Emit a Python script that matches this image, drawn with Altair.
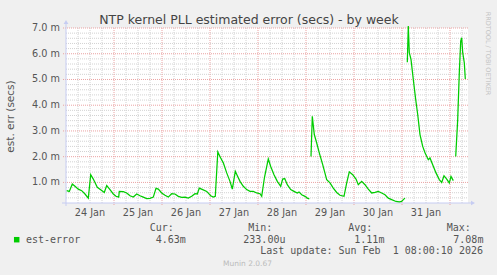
import altair as alt
import pandas as pd

# ---- data (hours since 24 Jan 00:00, est. error in ms) ----
seg1_hours = [0.35, 1.65, 3.15, 4.5, 6.15, 7.85, 9.5, 11.15, 12.35, 13.65, 15.65, 17.85, 19.15, 20.35, 22,
              23.65, 25, 26.35, 26.65, 28.65, 30.35, 32, 33.65, 35.35, 37, 38.65, 40.35, 42, 43.65, 45,
              46.15, 47.85, 49.5, 51.15, 52.85, 54.5, 56.15, 57.85, 59.5, 61.15, 62.85, 64.5, 65.65, 66.65,
              68.35, 70.35, 72.35, 73.65, 74.65, 75.9, 77.35, 78.65, 80.35, 82, 83.15, 84.65, 85.85, 87,
              88.65, 90.35, 92, 93.65, 95.35, 97, 97.85, 99.25, 101.15, 102.35, 104, 105.65, 107.35, 108.35,
              109.35, 110.65, 112.35, 114, 115.65, 116.5, 117.85, 119.5, 120.65, 121.65]
seg1_values = [0.68, 0.65, 0.94, 0.85, 0.74, 0.68, 0.55, 0.39, 1.30, 1.13, 0.81, 0.69, 0.61, 0.88, 0.72,
               0.55, 0.46, 0.43, 0.65, 0.64, 0.59, 0.48, 0.43, 0.55, 0.48, 0.43, 0.37, 0.38, 0.43, 0.77,
               0.74, 0.59, 0.50, 0.43, 0.56, 0.55, 0.46, 0.42, 0.43, 0.39, 0.46, 0.56, 0.55, 0.78,
               0.72, 0.65, 0.48, 0.43, 0.46, 2.18, 1.95, 1.76, 1.37, 1.04, 0.74, 1.43, 1.23, 1.04,
               0.85, 0.72, 0.65, 0.65, 0.59, 0.56, 0.46, 1.20, 1.91, 1.62, 1.30, 1.04, 0.85, 1.13,
               1.15, 0.91, 0.72, 0.65, 0.59, 0.63, 0.52, 0.46, 0.39, 0.36]
seg2_hours = [122.5, 123.15, 124.15, 125.35, 126.65, 128.35, 130.35, 132, 133.65, 135.35, 137, 139, 140.35,
              141.65, 143.35, 145, 146.15, 147.85, 149.5, 151.15, 152.85, 154.5, 156.15, 157.85, 159.5,
              161.15, 162.85, 165, 166.65, 167.85, 168.65, 169.5]
seg2_values = [2.01, 3.57, 2.86, 2.53, 2.15, 1.69, 1.11, 0.98, 0.78, 0.61, 0.50, 0.46, 0.98,
               1.41, 1.30, 1.13, 0.91, 1.04, 0.91, 0.74, 0.59, 0.61, 0.65, 0.59, 0.52,
               0.39, 0.33, 0.26, 0.24, 0.26, 0.33, 0.39]
seg3_hours = [170.65, 171.15, 171.65, 172.5, 173.65, 174.85, 175.85, 177, 178.35, 179.5, 181.15, 182,
              183.35, 185, 186.65, 187.85, 189, 190.35, 191.65, 192.5, 193.65]
seg3_values = [5.67, 7.08, 6.04, 5.78, 5.00, 4.22, 3.64, 2.86, 2.40, 2.15, 1.88, 1.95,
               1.69, 1.37, 1.11, 1.00, 1.26, 1.13, 0.98, 1.23, 1.07]
seg4_hours = [194.85, 195.85, 196.65, 197.35, 197.85, 198.35, 199.15, 199.65]
seg4_values = [2.01, 3.44, 5.26, 6.49, 6.62, 6.04, 5.65, 5.02]

day_label_hours = [12, 36, 60, 84, 108, 132, 156, 180]
day_labels = ["24 Jan", "25 Jan", "26 Jan", "27 Jan", "28 Jan", "29 Jan", "30 Jan", "31 Jan"]
y_tick_values = [1, 2, 3, 4, 5, 6, 7]
y_tick_labels = ["1.0 m", "2.0 m", "3.0 m", "4.0 m", "5.0 m", "6.0 m", "7.0 m"]

title_text = "NTP kernel PLL estimated error (secs) - by week"
y_title = "est. err (secs)"
series_name = "est-error"
stat_heads = ["Cur:", "Min:", "Avg:", "Max:"]
stat_vals = ["4.63m", "233.00u", "1.11m", "7.08m"]
last_update = "Last update: Sun Feb\u00a0 1 08:00:10 2026"

# ---- build tables ----
rows = []
for sid, (hs, vs) in enumerate([(seg1_hours, seg1_values), (seg2_hours, seg2_values),
                                 (seg3_hours, seg3_values), (seg4_hours, seg4_values)]):
    for h, v in zip(hs, vs):
        rows.append({"h": h, "v": v, "seg": sid})
line_df = pd.DataFrame(rows)

W, H = 402, 175
xs = alt.Scale(domain=[0, 201], nice=False, zero=False)
ys = alt.Scale(domain=[0.2, 7.0], nice=False, zero=False)

GREEN = "#00CC00"
AXIS = "#C6CCF2"
MINOR = "#D2D2D2"
MAJOR = "#EBA3A3"
TXT = "#555555"

major_v = list(range(24, 193, 24))
minor_v = [h for h in range(6, 201, 6) if h % 24]
minor_h = [round(0.2 * i, 1) for i in range(2, 35) if i % 5]

minor_v_l = alt.Chart(pd.DataFrame({"h": minor_v})).mark_rule(
    color=MINOR, strokeDash=[1, 1], strokeWidth=1).encode(
    x=alt.X("h:Q", scale=xs, axis=None), y=alt.value(0), y2=alt.value(H))
minor_h_l = alt.Chart(pd.DataFrame({"v": minor_h})).mark_rule(
    color=MINOR, strokeDash=[1, 1], strokeWidth=1).encode(
    y=alt.Y("v:Q", scale=ys, axis=None), x=alt.value(0), x2=alt.value(W))
major_v_l = alt.Chart(pd.DataFrame({"h": major_v})).mark_rule(
    color=MAJOR, strokeDash=[1, 1], strokeWidth=1).encode(
    x=alt.X("h:Q", scale=xs, axis=None), y=alt.value(0), y2=alt.value(H + 3))
major_h_l = alt.Chart(pd.DataFrame({"v": y_tick_values})).mark_rule(
    color=MAJOR, strokeDash=[1, 1], strokeWidth=1).encode(
    y=alt.Y("v:Q", scale=ys, axis=None), x=alt.value(-3), x2=alt.value(W))

x_axis_line = alt.Chart(pd.DataFrame({"a": [0]})).mark_rule(color=AXIS, strokeWidth=1).encode(
    x=alt.value(-4), x2=alt.value(W + 3), y=alt.value(H))
y_axis_line = alt.Chart(pd.DataFrame({"a": [0]})).mark_rule(color=AXIS, strokeWidth=1).encode(
    x=alt.value(0), y=alt.value(H + 3), y2=alt.value(-4))
x_arrow = alt.Chart(pd.DataFrame({"a": [0]})).mark_point(
    shape="triangle-right", filled=True, size=22, color=AXIS, opacity=1).encode(
    x=alt.value(W + 5), y=alt.value(H))
y_arrow = alt.Chart(pd.DataFrame({"a": [0]})).mark_point(
    shape="triangle-up", filled=True, size=22, color=AXIS, opacity=1).encode(
    x=alt.value(0), y=alt.value(-6))

line = alt.Chart(line_df).mark_line(color=GREEN, strokeWidth=1.25).encode(
    x=alt.X("h:Q", scale=xs, axis=None),
    y=alt.Y("v:Q", scale=ys, axis=None),
    detail="seg:N")

xlab = alt.Chart(pd.DataFrame({"h": day_label_hours, "t": day_labels})).mark_text(
    font="DejaVu Sans", fontSize=9.7, color=TXT, align="center", baseline="middle").encode(
    x=alt.X("h:Q", scale=xs, axis=None), y=alt.value(H + 9.7), text="t:N")
ylab = alt.Chart(pd.DataFrame({"v": y_tick_values, "t": y_tick_labels})).mark_text(
    font="DejaVu Sans", fontSize=9.7, color=TXT, align="right", baseline="middle").encode(
    y=alt.Y("v:Q", scale=ys, axis=None), x=alt.value(-6), text="t:N")


def txt(s, x, y, size=10.0, font="DejaVu Sans", color=TXT, align="left",
        baseline="middle", angle=0):
    return alt.Chart(pd.DataFrame({"t": [s]})).mark_text(
        font=font, fontSize=size, color=color, align=align, baseline=baseline,
        angle=angle).encode(x=alt.value(x), y=alt.value(y), text="t:N")


MONO = "DejaVu Sans Mono"
texts = [
    txt(title_text, 183, -4, size=12.5, color="#444444", align="center", baseline="alphabetic"),
    txt(y_title, -55, 88.5, size=10.5, align="center", angle=270),
    txt("RRDTOOL / TOBI OETIKER", 422, 25.5, size=6.5, color="#C4C4C4", align="center", angle=90),
    txt(series_name, -40, 211.5, font=MONO),
    txt(stat_heads[0], 83.7, 200.3, font=MONO),
    txt(stat_vals[0], 89.7, 211.5, font=MONO),
    txt(stat_heads[1], 182.3, 200.3, font=MONO),
    txt(stat_vals[1], 177.3, 211.5, font=MONO),
    txt(stat_heads[2], 282.3, 200.3, font=MONO),
    txt(stat_vals[2], 288.3, 211.5, font=MONO),
    txt(stat_heads[3], 380.7, 200.3, font=MONO),
    txt(stat_vals[3], 387.3, 211.5, font=MONO),
    txt(last_update, 417, 223, font=MONO, align="right"),
    txt("Munin 2.0.67", 181.5, 236, size=7.5, color="#BBBBBB", align="center"),
]
legend_sq = alt.Chart(pd.DataFrame({"a": [0]})).mark_square(
    size=30, color=GREEN, filled=True, opacity=1).encode(x=alt.value(-49.3), y=alt.value(211.7))

chart = alt.layer(
    minor_v_l, minor_h_l, major_v_l, major_h_l,
    x_axis_line, y_axis_line, x_arrow, y_arrow,
    line, xlab, ylab, legend_sq, *texts
).properties(
    width=W, height=H,
    padding={"left": 66, "top": 28, "right": 29, "bottom": 72},
    autosize=alt.AutoSizeParams(type="none"),
).configure(background="#F0F0F0").configure_view(fill="#FFFFFF", strokeWidth=0)

chart.save("out.html", embed_options={"renderer": "svg", "actions": False})
